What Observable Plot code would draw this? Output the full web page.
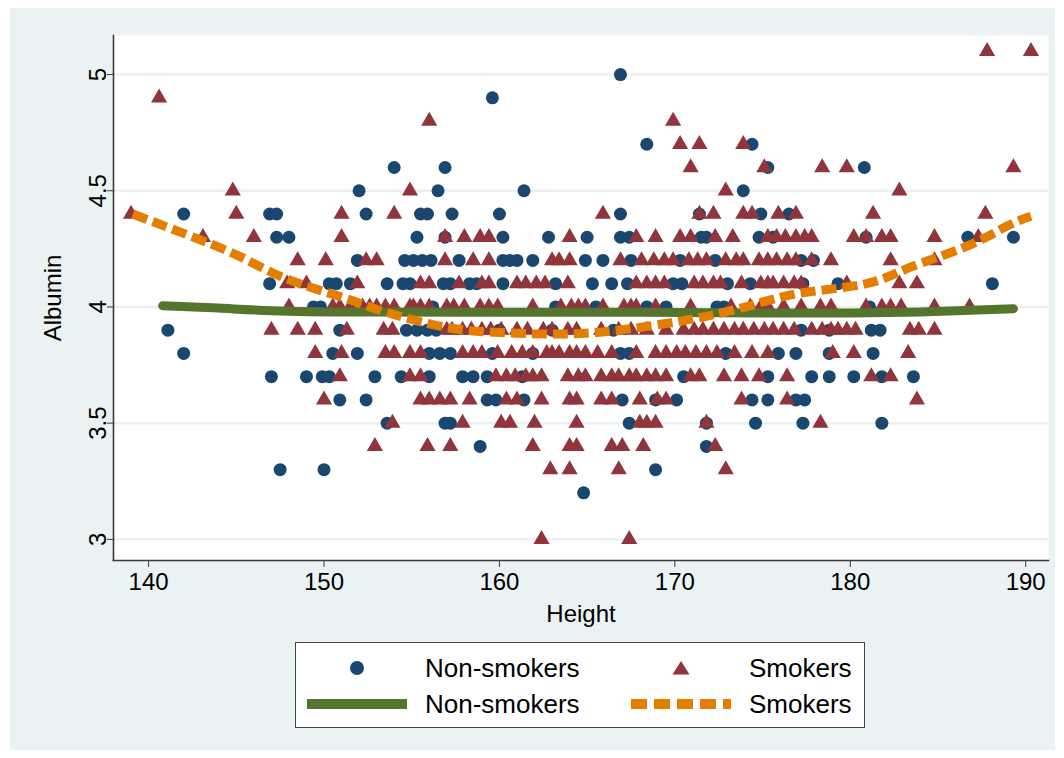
<!DOCTYPE html>
<html><head><meta charset="utf-8">
<script src="https://cdn.jsdelivr.net/npm/d3@7"></script>
<script src="https://cdn.jsdelivr.net/npm/@observablehq/plot@0.6"></script>
<style>
body{margin:0;background:#fff;width:1064px;height:758px;position:relative;overflow:hidden;font-family:"Liberation Sans",Arial,Helvetica,sans-serif;}
#bg{position:absolute;left:10px;top:8px;width:1045px;height:742px;background:#eaf2f3;}
#chart{position:absolute;left:0;top:0;}
#legend{position:absolute;left:295px;top:642px;width:568px;height:84px;background:#fff;border:1.5px solid #444;}
</style></head>
<body><div id="bg"></div><div id="chart"></div><div id="legend"></div>
<script>
const xTicks = [140, 150, 160, 170, 180, 190];
const yTicks = [3, 3.5, 4, 4.5, 5];
const seriesNames = ["Non-smokers", "Smokers"];

// [albumin, heights...]
const nonSmokerRows = [
  [5.0, [166.9]],
  [4.9, [159.6]],
  [4.7, [168.4, 174.4]],
  [4.6, [154.0, 156.9, 175.3, 180.8]],
  [4.5, [152.0, 156.5, 161.4, 173.9]],
  [4.4, [142.0, 146.9, 147.3, 152.4, 155.5, 155.9, 157.3, 160.0, 166.9, 171.4, 174.9, 176.5]],
  [4.3, [147.3, 148.0, 155.3, 156.9, 160.2, 162.8, 165.0, 166.9, 167.4, 171.5, 171.8, 174.8, 175.6, 180.9, 186.7, 189.3]],
  [4.2, [151.9, 154.6, 155.1, 155.6, 156.1, 157.7, 160.2, 160.6, 161.0, 161.9, 164.9, 165.9, 167.5, 170.3, 172.3, 177.2, 177.9]],
  [4.1, [146.9, 150.3, 150.7, 151.5, 153.6, 154.5, 154.9, 156.8, 157.2, 158.3, 158.7, 160.2, 163.2, 165.3, 166.4, 167.3, 169.9, 170.4, 173.0, 174.3, 177.3, 179.3, 188.1]],
  [4.0, [149.4, 149.8, 156.2, 163.2, 165.5, 168.4, 169.5, 172.4, 172.8, 181.1]],
  [3.9, [141.1, 150.9, 154.7, 155.3, 155.9, 156.4, 160.0, 163.0, 166.5, 177.2, 178.8, 181.2, 181.7]],
  [3.8, [142.0, 150.5, 151.9, 156.0, 156.6, 157.2, 159.6, 161.9, 166.9, 167.4, 172.9, 175.9, 176.9, 178.8, 181.3]],
  [3.7, [147.0, 149.0, 149.9, 150.3, 152.9, 154.4, 156.0, 157.9, 158.5, 159.3, 161.3, 170.5, 175.3, 177.8, 178.8, 180.2, 181.8, 183.6]],
  [3.6, [150.9, 152.4, 159.3, 159.8, 161.4, 167.0, 168.9, 170.1, 174.4, 175.3, 176.9, 177.4]],
  [3.5, [153.6, 156.9, 157.2, 167.4, 171.8, 174.6, 177.3, 181.8]],
  [3.4, [158.9, 171.8]],
  [3.3, [147.5, 150.0, 168.9]],
  [3.2, [164.8]]
];

const smokerRows = [
  [5.1, [187.8, 190.3]],
  [4.9, [140.6]],
  [4.8, [156.0, 169.9]],
  [4.7, [170.3, 171.4, 173.9]],
  [4.6, [170.9, 175.1, 178.4, 179.8, 189.3]],
  [4.5, [144.8, 154.9, 172.9, 182.8]],
  [4.4, [139.0, 145.0, 151.0, 154.0, 165.9, 171.4, 172.2, 173.9, 174.4, 175.9, 176.9, 181.3, 187.7]],
  [4.3, [143.1, 146.0, 151.0, 156.9, 158.0, 158.9, 159.4, 164.0, 167.8, 168.9, 170.3, 170.9, 172.3, 173.3, 175.3, 175.8, 176.3, 176.9, 177.4, 177.8, 180.2, 180.9, 181.8, 182.3, 184.8, 187.3]],
  [4.2, [148.5, 150.1, 152.4, 153.0, 156.9, 158.5, 159.4, 163.0, 163.4, 164.0, 166.9, 168.1, 168.8, 169.4, 169.9, 170.8, 171.3, 171.8, 172.9, 173.5, 173.9, 174.8, 175.3, 175.8, 176.4, 176.9, 177.8, 178.9, 182.3, 184.8]],
  [4.1, [147.9, 149.0, 151.9, 155.5, 156.0, 157.7, 159.0, 159.4, 161.0, 161.5, 162.1, 162.6, 163.9, 167.8, 168.4, 168.9, 169.4, 171.1, 171.6, 172.2, 172.6, 173.8, 174.9, 175.3, 175.6, 176.2, 176.8, 177.2, 179.8, 182.8, 183.8]],
  [4.0, [148.0, 150.5, 150.9, 151.5, 152.2, 152.6, 153.0, 153.5, 154.0, 154.9, 155.1, 155.5, 156.0, 157.0, 157.4, 158.0, 158.9, 159.4, 159.9, 161.9, 163.5, 164.1, 164.5, 164.9, 165.9, 167.1, 167.5, 167.8, 168.9, 170.9, 173.2, 174.3, 174.9, 175.3, 176.2, 177.2, 178.3, 178.9, 180.9, 181.8, 182.3, 182.9, 184.8, 186.8]],
  [3.9, [147.0, 148.5, 149.5, 151.3, 153.4, 153.9, 157.0, 157.3, 157.9, 158.4, 159.0, 159.5, 160.1, 161.0, 161.6, 162.5, 163.0, 163.9, 164.4, 165.8, 166.8, 167.5, 168.4, 169.5, 170.5, 171.1, 171.6, 172.2, 172.8, 173.4, 173.9, 174.5, 175.1, 175.6, 176.2, 176.8, 177.8, 178.4, 178.9, 179.3, 179.8, 180.3, 183.4, 183.9, 184.8]],
  [3.8, [149.5, 151.0, 153.5, 154.0, 154.9, 155.5, 157.9, 158.5, 159.0, 159.9, 160.7, 161.3, 161.9, 162.7, 163.0, 163.4, 164.0, 164.4, 164.9, 165.6, 166.4, 167.8, 168.9, 169.5, 170.1, 170.6, 171.2, 171.8, 172.4, 173.4, 174.4, 175.3, 179.0, 180.2, 183.3]],
  [3.7, [150.9, 154.9, 155.5, 159.8, 160.4, 160.9, 161.5, 161.9, 162.4, 163.9, 164.5, 164.9, 165.8, 166.4, 166.8, 167.4, 167.8, 168.4, 168.9, 169.5, 170.9, 171.4, 172.8, 173.8, 174.8, 176.4, 181.2, 182.3]],
  [3.6, [150.0, 155.5, 156.0, 156.6, 157.2, 158.3, 160.4, 161.0, 162.4, 164.0, 164.4, 165.8, 166.4, 168.0, 169.0, 169.5, 173.8, 176.4, 183.8]],
  [3.5, [153.9, 157.9, 160.1, 160.6, 162.0, 164.4, 168.0, 168.4, 168.9, 171.8, 178.3]],
  [3.4, [152.9, 155.9, 157.2, 161.9, 164.0, 164.4, 166.4, 167.0, 168.2, 172.3]],
  [3.3, [162.9, 164.0, 166.8, 172.9]],
  [3.0, [162.4, 167.4]]
];

// lowess fits [height, albumin]
const nonSmokerFit = [
  [140.8, 4.005], [144, 3.995], [147, 3.984], [152, 3.978], [160, 3.977],
  [168, 3.977], [175, 3.974], [180, 3.974], [184, 3.978], [189.3, 3.992]
];
const smokerFit = [
  [139.1, 4.40], [142.9, 4.29], [145.4, 4.21], [147.9, 4.12], [151.1, 4.04],
  [153.0, 3.99], [155.3, 3.94], [158.1, 3.90], [161.9, 3.885], [165.5, 3.89],
  [169.6, 3.93], [172.1, 3.965], [174.5, 4.01], [177.2, 4.06], [180.9, 4.10],
  [183.4, 4.17], [186.6, 4.26], [189.0, 4.35], [190.3, 4.39]
];

const colors = {ns: "#1a476f", sm: "#90353b", nsFit: "#55752f", smFit: "#e37e00"};

const flat = rows => rows.flatMap(([a, hs]) => hs.map(h => ({height: h, albumin: a})));
const nsData = flat(nonSmokerRows);
const smData = flat(smokerRows);

const chart = Plot.plot({
  width: 1064, height: 632,
  marginLeft: 113, marginRight: 16, marginTop: 35, marginBottom: 72,
  style: {background: "transparent", fontFamily: "'Liberation Sans', Arial, Helvetica, sans-serif", fontSize: "24px", color: "#000", overflow: "visible"},
  x: {domain: [138.0, 191.3]},
  y: {domain: [2.909, 5.168]},
  marks: [
    Plot.frame({fill: "white", stroke: null}),
    Plot.gridY(yTicks, {stroke: "#ebf1f2", strokeOpacity: 1, strokeWidth: 2.5}),
    Plot.dot(nsData, {x: "height", y: "albumin", r: 6.5, fill: colors.ns, symbol: "circle"}),
    Plot.dot(smData, {x: "height", y: "albumin", r: 6, fill: colors.sm, symbol: "triangle"}),
    Plot.line(nonSmokerFit, {x: d => d[0], y: d => d[1], stroke: colors.nsFit, strokeWidth: 9, curve: "natural"}),
    Plot.line(smokerFit, {x: d => d[0], y: d => d[1], stroke: colors.smFit, strokeWidth: 9, strokeDasharray: "15,6", strokeLinecap: "butt", strokeLinejoin: "miter", curve: "natural"}),
    Plot.frame({anchor: "left", stroke: "#3a3a3a", strokeWidth: 1.6}),
    Plot.frame({anchor: "bottom", stroke: "#3a3a3a", strokeWidth: 1.6}),
    Plot.axisY(yTicks, {tickRotate: -90, tickSize: 6, tickPadding: 2, tickFormat: d => String(d), stroke: "#3a3a3a",
      label: "Albumin", labelAnchor: "center", labelArrow: "none", labelOffset: 70}),
    Plot.axisX(xTicks, {tickSize: 7, tickPadding: 5, tickFormat: d => String(d), stroke: "#3a3a3a",
      label: "Height", labelAnchor: "center", labelArrow: "none", labelOffset: 61})
  ]
});
document.getElementById("chart").appendChild(chart);

// legend
const legendItems = [
  {kind: "circle", color: colors.ns, label: seriesNames[0], x: 61, y: 25},
  {kind: "triangle", color: colors.sm, label: seriesNames[1], x: 385, y: 25},
  {kind: "solid", color: colors.nsFit, label: seriesNames[0], x: 11, y: 61},
  {kind: "dash", color: colors.smFit, label: seriesNames[1], x: 335, y: 61}
];
let svg = `<svg width="568" height="84" xmlns="http://www.w3.org/2000/svg" style="font-family:'Liberation Sans',Arial,sans-serif">`;
legendItems.forEach((it, i) => {
  const tx = (i % 2 === 0) ? 129 : 453;
  if (it.kind === "circle") svg += `<circle cx="${it.x}" cy="${it.y}" r="7" fill="${it.color}"/>`;
  if (it.kind === "triangle") svg += `<path d="M${it.x},${it.y - 7} L${it.x + 8.5},${it.y + 6.5} L${it.x - 8.5},${it.y + 6.5} Z" fill="${it.color}"/>`;
  if (it.kind === "solid") svg += `<line x1="${it.x}" x2="${it.x + 100}" y1="${it.y}" y2="${it.y}" stroke="${it.color}" stroke-width="10"/>`;
  if (it.kind === "dash") svg += `<line x1="${it.x}" x2="${it.x + 100}" y1="${it.y}" y2="${it.y}" stroke="${it.color}" stroke-width="10" stroke-dasharray="16,7"/>`;
  svg += `<text x="${tx}" y="${it.y}" dominant-baseline="central" font-size="26" fill="#000">${it.label}</text>`;
});
svg += `</svg>`;
document.getElementById("legend").innerHTML = svg;
</script>
</body></html>
